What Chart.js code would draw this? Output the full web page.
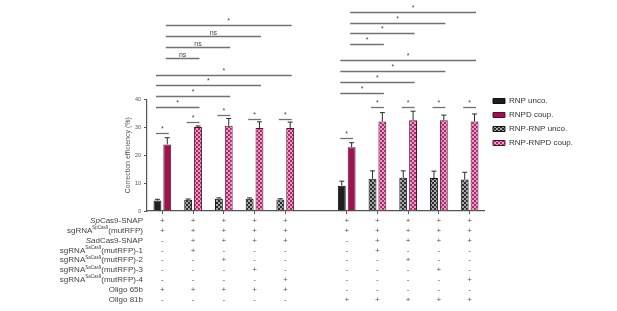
<!DOCTYPE html>
<html>
<head>
<meta charset="utf-8">
<script src="https://cdn.jsdelivr.net/npm/chart.js@4.4.1/dist/chart.umd.min.js"></script>
<style>
  html, body { margin: 0; padding: 0; background: #fff; }
</style>
</head>
<body>
<canvas id="chart" width="617" height="311"></canvas>
<script>
const FONT = "'Liberation Sans', Arial, sans-serif";

// 11 slots: 5 groups with Oligo 65b, an empty gap, 5 groups with Oligo 81b
const rowMarks = [
    ['+', '+', '+', '+', '+', '', '+', '+', '+', '+', '+'],
    ['+', '+', '+', '+', '+', '', '+', '+', '+', '+', '+'],
    ['-', '+', '+', '+', '+', '', '-', '+', '+', '+', '+'],
    ['-', '+', '-', '-', '-', '', '-', '+', '-', '-', '-'],
    ['-', '-', '+', '-', '-', '', '-', '-', '+', '-', '-'],
    ['-', '-', '-', '+', '-', '', '-', '-', '-', '+', '-'],
    ['-', '-', '-', '-', '+', '', '-', '-', '-', '-', '+'],
    ['+', '+', '+', '+', '+', '', '-', '-', '-', '-', '-'],
    ['-', '-', '-', '-', '-', '', '+', '+', '+', '+', '+']
];
// row names: [text, style] with i = italic, s = superscript, n = normal
const rowNames = [
    [['Sp', 'i'], ['Cas9-SNAP', 'n']],
    [['sgRNA', 'n'], ['SpCas9', 's'], ['(mutRFP)', 'n']],
    [['Sa', 'i'], ['dCas9-SNAP', 'n']],
    [['sgRNA', 'n'], ['SaCas9', 's'], ['(mutRFP)-1', 'n']],
    [['sgRNA', 'n'], ['SaCas9', 's'], ['(mutRFP)-2', 'n']],
    [['sgRNA', 'n'], ['SaCas9', 's'], ['(mutRFP)-3', 'n']],
    [['sgRNA', 'n'], ['SaCas9', 's'], ['(mutRFP)-4', 'n']],
    [['Oligo 65b', 'n']],
    [['Oligo 81b', 'n']]
];

const rnpUnco     = [3.8, null, null, null, null, null, 9.1, null, null, null, null];
const rnpdCoup    = [23.9, null, null, null, null, null, 22.9, null, null, null, null];
const rnpRnpUnco  = [null, 4.0, 4.4, 4.4, 4.1, null, null, 11.6, 11.9, 11.8, 11.3];
const rnpRnpdCoup = [null, 30.1, 30.6, 29.8, 29.8, null, null, 32.1, 32.6, 32.6, 32.1];

const rnpUncoErr     = [0.4, null, null, null, null, null, 1.6, null, null, null, null];
const rnpdCoupErr    = [2.4, null, null, null, null, null, 1.6, null, null, null, null];
const rnpRnpUncoErr  = [null, 0.3, 0.3, 0.3, 0.3, null, null, 2.8, 2.5, 2.5, 2.6];
const rnpRnpdCoupErr = [null, 0.4, 2.6, 2.2, 2.1, null, null, 3.2, 3.2, 1.8, 2.7];

const yTicks = [0, 10, 20, 30, 40];

// significance brackets: [dataset A, index A, dataset B, index B, height (%), label]
const brackets = [
    [1, 0, 3, 4, 66.7, '*'], [1, 0, 3, 3, 62.9, 'ns'], [1, 0, 3, 2, 58.9, 'ns'], [1, 0, 3, 1, 54.8, 'ns'],
    [0, 0, 3, 4, 48.8, '*'], [0, 0, 3, 3, 45.2, '*'], [0, 0, 3, 2, 41.3, '*'], [0, 0, 3, 1, 37.4, '*'],
    [0, 0, 1, 0, 28.1, '*'], [2, 1, 3, 1, 31.8, '*'], [2, 2, 3, 2, 34.4, '*'], [2, 3, 3, 3, 33.0, '*'], [2, 4, 3, 4, 33.0, '*'],
    [1, 6, 3, 10, 71.4, '*'], [1, 6, 3, 9, 67.6, '*'], [1, 6, 3, 8, 63.7, '*'], [1, 6, 3, 7, 59.8, '*'],
    [0, 6, 3, 10, 54.2, '*'], [0, 6, 3, 9, 50.3, '*'], [0, 6, 3, 8, 46.4, '*'], [0, 6, 3, 7, 42.4, '*'],
    [0, 6, 1, 6, 26.1, '*'], [2, 7, 3, 7, 37.2, '*'], [2, 8, 3, 8, 37.2, '*'], [2, 9, 3, 9, 37.2, '*'], [2, 10, 3, 10, 37.2, '*']
];

const labels = rowMarks[0].map((_, i) => rowMarks.map(r => r[i]));

function checker(base, dot) {
    const c = document.createElement('canvas');
    c.width = 4;
    c.height = 4;
    const g = c.getContext('2d');
    g.fillStyle = base;
    g.fillRect(0, 0, 4, 4);
    g.fillStyle = dot;
    g.fillRect(0, 0, 2, 2);
    g.fillRect(2, 2, 2, 2);
    return g.createPattern(c, 'repeat');
}

const errorBars = {
    id: 'errorBars',
    afterDatasetsDraw(chart) {
        const ctx = chart.ctx;
        const y = chart.scales.y;
        chart.data.datasets.forEach((ds, di) => {
            chart.getDatasetMeta(di).data.forEach((bar, i) => {
                const v = ds.data[i], e = ds.errors[i];
                if (v == null || e == null) return;
                const top = y.getPixelForValue(v + e);
                ctx.save();
                ctx.strokeStyle = '#2a2a2a';
                ctx.lineWidth = 1;
                ctx.beginPath();
                ctx.moveTo(bar.x, bar.y);
                ctx.lineTo(bar.x, top);
                ctx.moveTo(bar.x - 2.5, top);
                ctx.lineTo(bar.x + 2.5, top);
                ctx.stroke();
                ctx.restore();
            });
        });
    }
};

const sigBrackets = {
    id: 'sigBrackets',
    afterDraw(chart) {
        const ctx = chart.ctx;
        const y = chart.scales.y;
        ctx.save();
        brackets.forEach(([da, ia, db, ib, v, txt]) => {
            const x1 = chart.getDatasetMeta(da).data[ia].x - 1.5;
            const x2 = chart.getDatasetMeta(db).data[ib].x + 1.5;
            const py = Math.round(y.getPixelForValue(v)) + 0.5;
            ctx.strokeStyle = '#727272';
            ctx.lineWidth = 1.3;
            ctx.beginPath();
            ctx.moveTo(x1, py);
            ctx.lineTo(x2, py);
            ctx.stroke();
            ctx.fillStyle = '#444';
            ctx.font = '7px ' + FONT;
            ctx.textAlign = 'center';
            ctx.textBaseline = 'alphabetic';
            ctx.fillText(txt, (x1 + x2) / 2, py - (txt === '*' ? 3 : 2));
        });
        ctx.restore();
    }
};

// names of the table rows, lined up with the multi-line x tick labels
const rowLabels = {
    id: 'rowLabels',
    afterDraw(chart) {
        const ctx = chart.ctx;
        const xs = chart.scales.x;
        const o = chart.options.scales.x;
        const lh = o.ticks.font.size * o.ticks.font.lineHeight;
        const y0 = xs.top + o.grid.tickLength + o.ticks.padding + lh / 2;
        const fontFor = st => st === 'i' ? 'italic 8px ' + FONT : st === 's' ? '4.5px ' + FONT : '8px ' + FONT;
        ctx.save();
        ctx.fillStyle = '#444';
        ctx.textBaseline = 'middle';
        ctx.textAlign = 'left';
        rowNames.forEach((parts, r) => {
            let w = 0;
            parts.forEach(([t, st]) => { ctx.font = fontFor(st); w += ctx.measureText(t).width; });
            let x = 143 - w;
            const py = y0 + r * lh;
            parts.forEach(([t, st]) => {
                ctx.font = fontFor(st);
                ctx.fillText(t, x, st === 's' ? py - 2.5 : py);
                x += ctx.measureText(t).width;
            });
        });
        ctx.restore();
    }
};

const legendShift = {
    id: 'legendShift',
    afterLayout(chart) {
        const l = chart.legend;
        l.left += 2; l.right += 2;
        l.top -= 8.5; l.bottom -= 8.5;
    }
};

Chart.defaults.font.family = FONT;

new Chart(document.getElementById('chart'), {
    type: 'bar',
    data: {
        labels: labels,
        datasets: [{
            label: 'RNP unco.',
            data: rnpUnco,
            errors: rnpUncoErr,
            backgroundColor: '#1f1f1f',
            borderColor: '#111',
            borderWidth: 1
        }, {
            label: 'RNPD coup.',
            data: rnpdCoup,
            errors: rnpdCoupErr,
            backgroundColor: '#9b1450',
            borderColor: '#5e0b30',
            borderWidth: 1
        }, {
            label: 'RNP-RNP unco.',
            data: rnpRnpUnco,
            errors: rnpRnpUncoErr,
            backgroundColor: checker('#2b2b2b', '#a8a8a8'),
            borderColor: '#111',
            borderWidth: 1
        }, {
            label: 'RNP-RNPD coup.',
            data: rnpRnpdCoup,
            errors: rnpRnpdCoupErr,
            backgroundColor: checker('#a52a6c', '#e99cc4'),
            borderColor: '#5e0b30',
            borderWidth: 1
        }]
    },
    options: {
        responsive: false,
        animation: false,
        layout: { padding: { left: 120, right: 36, top: 99.5, bottom: 0 } },
        datasets: { bar: { skipNull: true, categoryPercentage: 0.64, barPercentage: 0.8 } },
        plugins: {
            tooltip: { enabled: false },
            legend: {
                position: 'right',
                align: 'start',
                labels: { boxWidth: 12, boxHeight: 5, padding: 6, color: '#333', font: { size: 8 } }
            }
        },
        scales: {
            x: {
                afterFit: s => { s.height = 100; },
                grid: {
                    display: true, drawOnChartArea: false, drawTicks: true, tickLength: 3, offset: false,
                    color: c => (c.index === 5 ? 'rgba(0,0,0,0)' : '#555')
                },
                border: { color: '#555', width: 1.2 },
                ticks: { autoSkip: false, maxRotation: 0, padding: 2, color: '#555', font: { size: 8, lineHeight: 1.225 } }
            },
            y: {
                min: 0,
                max: 40,
                afterFit: s => { s.width = 27; },
                afterBuildTicks: s => { s.ticks = yTicks.map(v => ({ value: v })); },
                grid: { display: true, drawOnChartArea: false, drawTicks: true, tickLength: 3, color: '#555' },
                border: { color: '#555', width: 1.2 },
                ticks: { padding: 3, color: '#555', font: { size: 5.5 } },
                title: { display: true, text: 'Correction efficiency (%)', color: '#555', font: { size: 7 }, padding: { top: 4, bottom: 0 } }
            }
        }
    },
    plugins: [errorBars, sigBrackets, rowLabels, legendShift]
});
</script>
</body>
</html>
